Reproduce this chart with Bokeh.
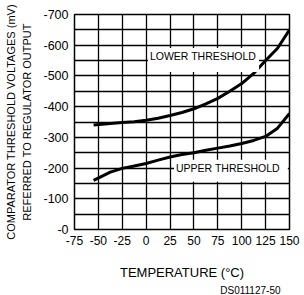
from math import pi
from bokeh.plotting import figure
from bokeh.models import Range1d, FixedTicker, Label, Title
from bokeh.embed import file_html
from bokeh.resources import INLINE

# Data (temperature in degC, voltage in mV)
lower_temp = [-55, -37.5, -25, -12.5, 0, 12.5, 25, 37.5, 50, 62.5, 75, 87.5, 100, 112.5, 125, 137.5, 150]
lower_mv = [-340, -345, -348, -351, -356, -362, -371, -381, -393, -409, -427, -450, -475, -508, -550, -590, -650]

upper_temp = [-55, -37.5, -25, -12.5, 0, 12.5, 25, 37.5, 50, 62.5, 75, 87.5, 100, 112.5, 125, 137.5, 150]
upper_mv = [-160, -187, -199, -207, -215, -226, -236, -244, -250, -258, -265, -272, -280, -290, -303, -330, -378]

x_ticks = [-75, -50, -25, 0, 25, 50, 75, 100, 125, 150]
y_ticks = [0, -100, -200, -300, -400, -500, -600, -700]
x_grid = [-75, -50, -25, 0, 25, 50, 75, 100, 125, 150]
y_grid = [0, -50, -100, -150, -200, -250, -300, -350, -400, -450, -500, -550, -600, -650, -700]

FONT = "Liberation Sans"

p = figure(width=304, height=295, output_backend="svg", toolbar_location=None,
           x_range=Range1d(-75, 150), y_range=Range1d(0, -700),
           min_border_left=74, min_border_right=15, min_border_top=14, min_border_bottom=65)
p.background_fill_color = "white"
p.border_fill_color = "white"
p.outline_line_color = "black"
p.outline_line_width = 1.5

for ax in (p.xaxis, p.yaxis):
    ax.axis_line_color = None
    ax.major_tick_line_color = None
    ax.minor_tick_line_color = None
    ax.major_tick_in = 0
    ax.major_tick_out = 0
    ax.minor_tick_in = 0
    ax.minor_tick_out = 0
    ax.major_label_text_font = FONT
    ax.major_label_text_color = "black"
    ax.axis_label_text_font = FONT
    ax.axis_label_text_font_style = "normal"
    ax.axis_label_text_color = "black"

p.xaxis.major_label_text_font_size = "12px"
p.yaxis.major_label_text_font_size = "12.5px"
p.xaxis.ticker = FixedTicker(ticks=x_ticks)
p.yaxis.ticker = FixedTicker(ticks=y_ticks)
p.xaxis.major_label_overrides = {t: ("-%d" % abs(t) if t < 0 else "%d" % t) for t in x_ticks}
p.yaxis.major_label_overrides = {t: "-%d" % abs(t) for t in y_ticks}
p.xaxis.major_label_standoff = 6
p.yaxis.major_label_standoff = 6

p.yaxis.axis_label = "REFERRED TO REGULATOR OUTPUT"
p.yaxis.axis_label_text_font_size = "11px"
p.yaxis.axis_label_standoff = 7
p.xaxis.axis_label = "TEMPERATURE (°C)"
p.xaxis.axis_label_text_font_size = "13px"
p.xaxis.axis_label_standoff = 17

p.add_layout(Title(text="COMPARATOR THRESHOLD VOLTAGES (mV)", align="center", text_font=FONT,
                   text_font_size="11px", text_font_style="normal", text_color="black",
                   standoff=4, offset=2), "left")
p.add_layout(Title(text="DS011127-50", align="right", text_font=FONT,
                   text_font_size="10px", text_font_style="normal", text_color="black",
                   standoff=0, offset=9), "below")

p.xgrid.ticker = FixedTicker(ticks=x_grid)
p.ygrid.ticker = FixedTicker(ticks=y_grid)
for g in (p.xgrid, p.ygrid):
    g.grid_line_color = "black"
    g.grid_line_width = 1.3
    g.grid_line_alpha = 1.0

p.line(lower_temp, lower_mv, line_color="black", line_width=3)
p.line(upper_temp, upper_mv, line_color="black", line_width=3)

p.add_layout(Label(x=60, y=-552, text="LOWER THRESHOLD", text_align="center", text_baseline="middle",
                   text_font=FONT, text_font_size="10.5px", text_color="black",
                   background_fill_color="white", padding=(2, 3, 2, 10)))
p.add_layout(Label(x=88.7, y=-191, text="UPPER THRESHOLD", text_align="center", text_baseline="middle",
                   text_font=FONT, text_font_size="10.5px", text_color="black",
                   background_fill_color="white", padding=(2, 8, 2, 8)))

open("out.html", "w").write(file_html(p, INLINE))
